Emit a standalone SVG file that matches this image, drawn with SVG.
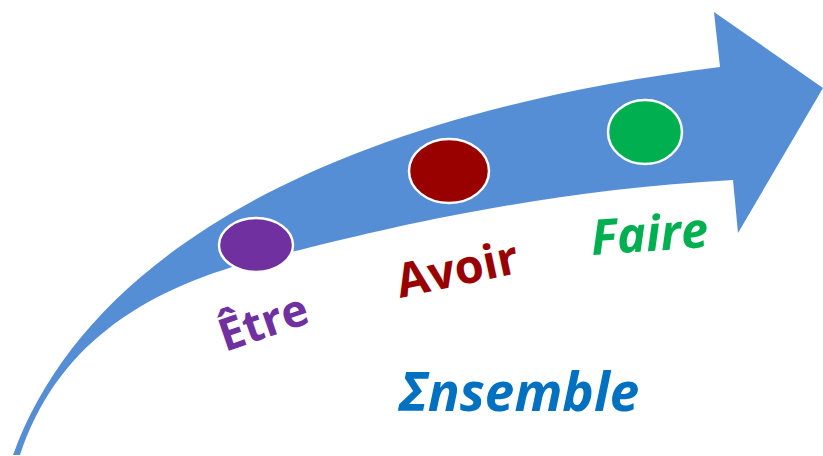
<svg xmlns="http://www.w3.org/2000/svg" width="823" height="456" viewBox="0 0 823 456">
<style>
.lbl{font-family:"Open Sans","Noto Sans","Liberation Sans",sans-serif;font-weight:700}
.it{font-style:italic}
.dot{stroke:#ffffff;stroke-width:2.5}
</style>
<rect width="823" height="456" fill="#ffffff"/>
<g id="arrow">
<path d="M 13 455 C 80 270, 300 120, 720 67 L 714 12 L 823 88 L 738 233 L 733 180 C 550 190, 400 225, 300 250 C 160 278, 60 335, 20 455 Z" fill="#568ED6"/>
</g>
<g id="etre">
<ellipse class="dot" cx="256" cy="245" rx="37" ry="27" fill="#7030A0"/>
<text class="lbl" x="0" y="0" font-size="45" fill="#7030A0" transform="translate(225 352) rotate(-19)">Être</text>
</g>
<g id="avoir">
<ellipse class="dot" cx="449" cy="171" rx="40" ry="32" fill="#990000"/>
<text class="lbl" x="0" y="0" font-size="47" fill="#990000" transform="translate(400 298) rotate(-12)">Avoir</text>
</g>
<g id="faire">
<ellipse class="dot" cx="645" cy="132" rx="37" ry="32" fill="#00B050"/>
<text class="lbl it" x="0" y="0" font-size="49" fill="#00B050" transform="translate(592 255) rotate(-4)">Faire</text>
</g>
<g id="ensemble">
<text class="lbl it" x="399" y="411" font-size="53" fill="#0070C0">Σnsemble</text>
</g>
</svg>
